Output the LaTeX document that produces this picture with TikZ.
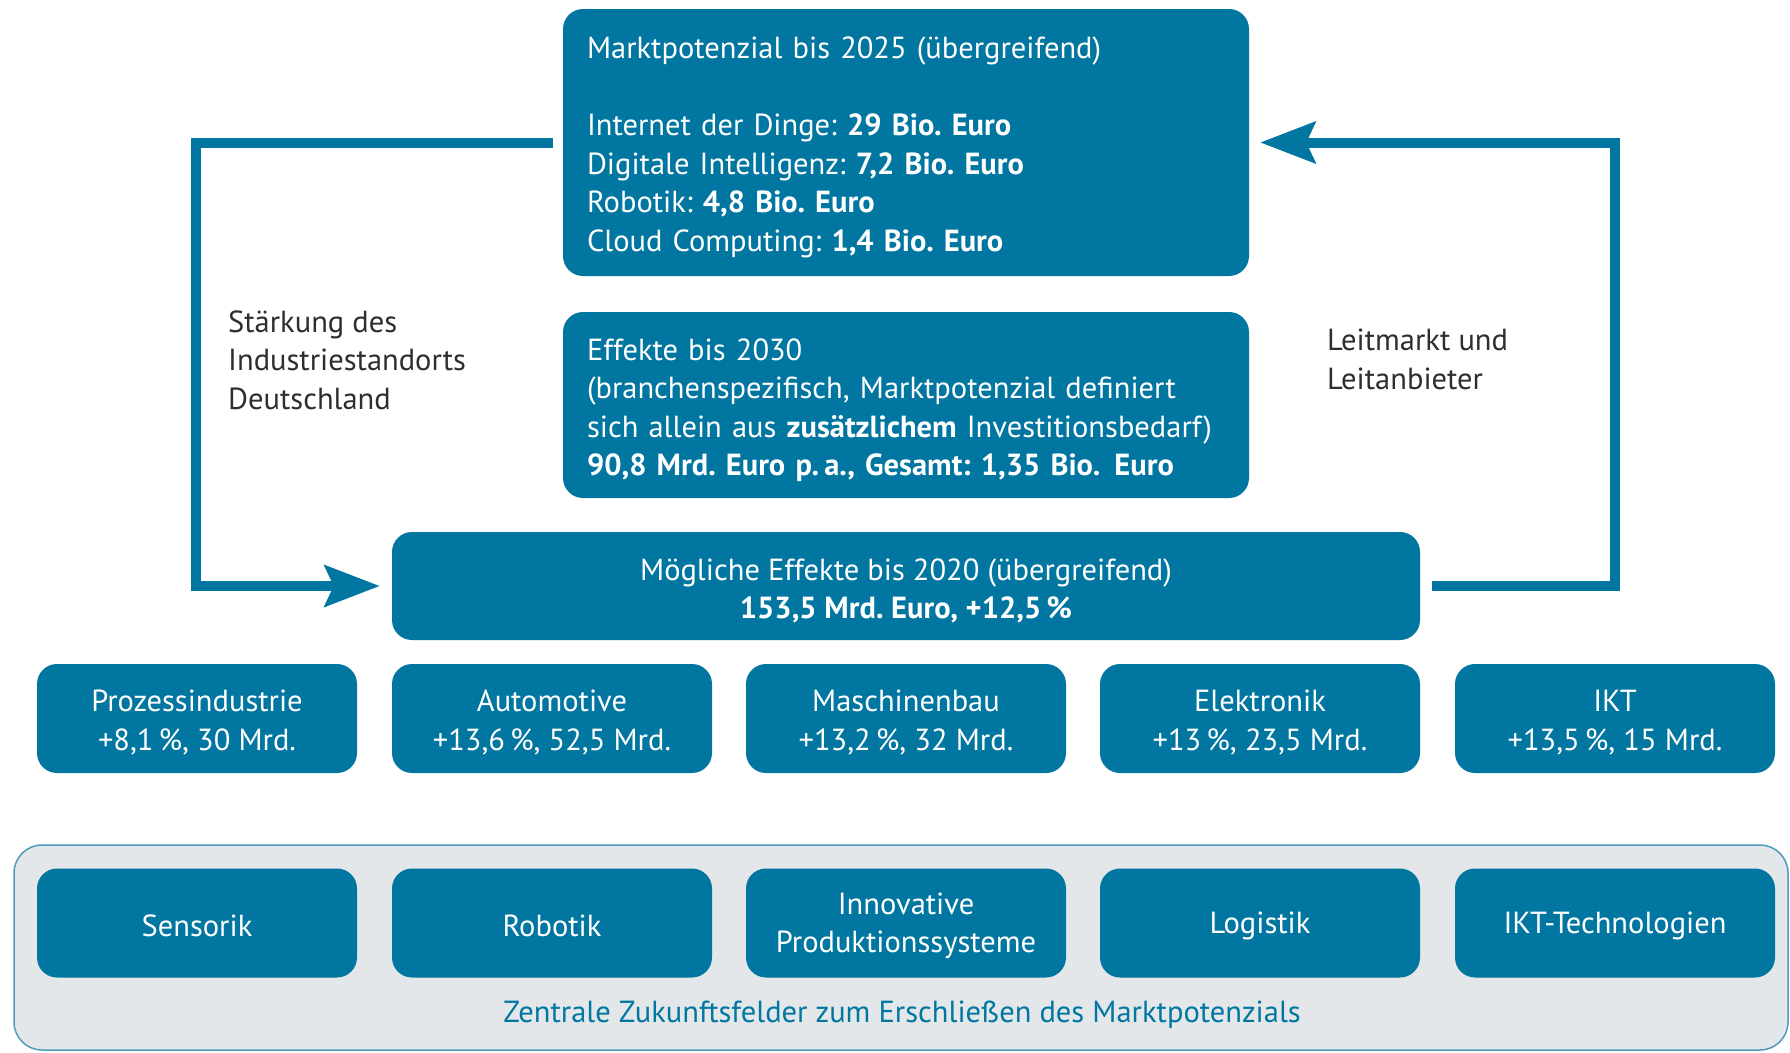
\documentclass[tikz,border=0pt]{standalone}
\usepackage{fontspec}
\setmainfont{PT Sans}
\usetikzlibrary{arrows.meta}
\definecolor{bmteal}{HTML}{0076A0}
\definecolor{panelgray}{HTML}{E3E7EA}
\definecolor{panelline}{HTML}{4F9BBB}
\definecolor{labelgray}{HTML}{2E2E2E}
\frenchspacing
\begin{document}
\begin{tikzpicture}[x=1pt,y=-1pt,
  font=\fontsize{30.5pt}{38.5pt}\selectfont\frenchspacing,
  box/.style={fill=bmteal, rounded corners=20pt, inner sep=0pt},
  boxtext/.style={text=white, inner sep=0pt, align=center},
  smallbox/.style={box, minimum width=320pt, minimum height=109pt},
  panel/.style={fill=panelgray, draw=panelline, line width=1.5pt, rounded corners=28pt, inner sep=0pt},
  lbl/.style={text=labelgray, align=left, inner sep=0pt, anchor=west},
  flow/.style={draw=bmteal, line width=10pt, line join=miter,
    -{Stealth[length=55pt,width=41pt,inset=9pt]}}]
\useasboundingbox (0,0) rectangle (1790,1052);

% upper two information boxes
\node[box, minimum width=686pt, minimum height=267pt] (top) at (906,142.5) {};
\node[boxtext, text width=638pt, align=left] (toptxt) at ([yshift=-5pt]top.center)
  {Marktpotenzial bis 2025 (übergreifend)\\[38.5pt]
   Internet der Dinge: \textbf{29 Bio. Euro}\\
   Digitale Intelligenz: \textbf{7,2 Bio. Euro}\\
   Robotik: \textbf{4,8 Bio. Euro}\\
   Cloud Computing: \textbf{1,4 Bio. Euro}};
\node[box, minimum width=686pt, minimum height=186pt] (eff) at (906,405) {};
\node[boxtext, text width=638pt, align=left] (efftxt) at ([yshift=-5pt]eff.center)
  {Effekte bis 2030\\
   (branchenspezifisch, Marktpotenzial definiert\\
   sich allein aus \textbf{zusätzlichem} Investitionsbedarf)\\
   \textbf{90,8 Mrd. Euro p.\,a., Gesamt: 1,35 Bio.\hspace{4pt} Euro}};

% central box
\node[box, minimum width=1028pt, minimum height=108pt] (mog) at (906,586) {};
\node[boxtext] (mogtxt) at ([yshift=-5pt]mog.center)
  {Mögliche Effekte bis 2020 (übergreifend)\\ \textbf{153,5 Mrd. Euro, +12,5\,\%}};

% sectors
\foreach \n/\x/\t in {s1/197/{Prozessindustrie\\+8,1\,\%, 30 Mrd.},
                      s2/552/{Automotive\\+13,6\,\%, 52,5 Mrd.},
                      s3/906/{Maschinenbau\\+13,2\,\%, 32 Mrd.},
                      s4/1260/{Elektronik\\+13\,\%, 23,5 Mrd.},
                      s5/1615/{IKT\\+13,5\,\%, 15 Mrd.}}{
  \node[smallbox] (\n) at (\x,718.5) {};
  \node[boxtext] (\n txt) at ([yshift=-4pt]\n.center) {\t};
}

% future fields panel
\node[panel, minimum width=1774pt, minimum height=205pt] (panel) at (901,947.5) {};
\foreach \n/\x/\t in {f1/197/{Sensorik},
                      f2/552/{Robotik},
                      f3/906/{Innovative\\Produktionssysteme},
                      f4/1260/{Logistik},
                      f5/1615/{IKT-Technologien}}{
  \node[smallbox] (\n) at (\x,923) {};
  \node[boxtext] (\n txt) at ([yshift=-3pt]\n.center) {\t};
}
\node[text=bmteal, inner sep=0pt] (cap) at (902,1015)
  {Zentrale Zukunftsfelder zum Erschließen des Marktpotenzials};

% feedback loops
\coordinate (lbend) at (196,586);
\coordinate (rbend) at (1615,586);
\draw[flow] ([xshift=-10pt]top.west) -| (lbend) -- ([xshift=-12pt]mog.west);
\draw[flow] ([xshift=12pt]mog.east) -- (rbend) |- ([xshift=11pt]top.east);

\node[lbl] (lleft) at (228,360) {Stärkung des\\Industriestandorts\\Deutschland};
\node[lbl] (lright) at (1327,359.5) {Leitmarkt und\\Leitanbieter};
\end{tikzpicture}
\end{document}
